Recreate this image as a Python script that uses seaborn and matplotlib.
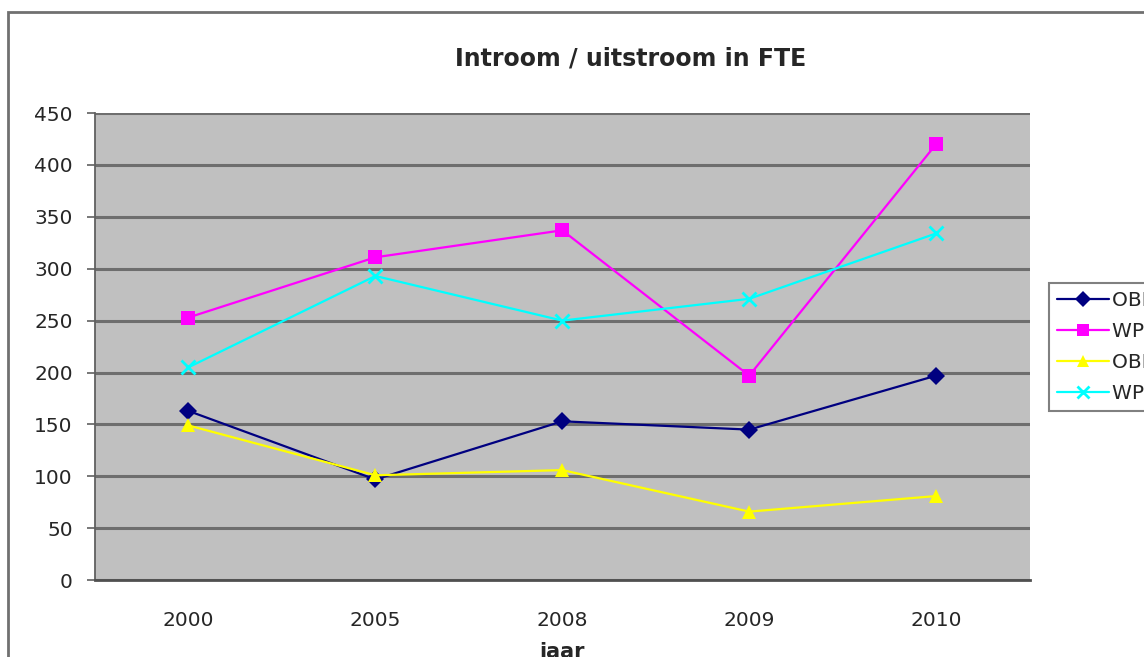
import pandas as pd
import matplotlib
matplotlib.use('Agg')
import matplotlib.pyplot as plt
import matplotlib.colors as mcolors
import seaborn as sns
from matplotlib.patches import Rectangle

jaren = ['2000', '2005', '2008', '2009', '2010']
obp_in = [163, 97, 153, 145, 197]
wp_in = [253, 311, 337, 197, 420]
obp_uit = [149, 101, 106, 66, 81]
wp_uit = [205, 293, 250, 271, 334]
reeksen = ['OBP instroom', 'WP instroom', 'OBP uitstroom', 'WP uitstroom']

df = pd.DataFrame({
    'jaar': jaren * 4,
    'fte': obp_in + wp_in + obp_uit + wp_uit,
    'reeks': [r for r in reeksen for _ in jaren],
})

sns.set_style('white')
plt.rcParams['font.family'] = ['DejaVu Sans']

fig = plt.figure(figsize=(11.44, 6.57), dpi=100)
ax = fig.add_axes([0.083, 0.117, 0.817, 0.711])

kleuren = {'OBP instroom': '#000080', 'WP instroom': '#FF00FF',
           'OBP uitstroom': '#FFFF00', 'WP uitstroom': '#00FFFF'}
markers = {'OBP instroom': 'D', 'WP instroom': 's',
           'OBP uitstroom': '^', 'WP uitstroom': 'X'}

sns.lineplot(data=df, x='jaar', y='fte', hue='reeks', style='reeks',
             palette=kleuren, markers=markers, dashes=False, sort=False,
             markersize=9.5, linewidth=1.6, ax=ax)


def fix_marker(ln):
    # kruisje als lijnmarker, de rest gevuld zonder rand
    if mcolors.to_hex(ln.get_color()) == '#00ffff':
        ln.set_marker('x')
        ln.set_markeredgewidth(2)
        ln.set_markeredgecolor('#00FFFF')
    else:
        ln.set_markeredgewidth(0)


for ln in ax.get_lines():
    fix_marker(ln)

ax.set_facecolor('#C0C0C0')
ax.set_xlim(-0.5, 4.5)
ax.set_ylim(0, 450)
ax.set_yticks(range(0, 451, 50))
ax.yaxis.grid(True, color='#6E6E6E', linewidth=2.2)
ax.set_axisbelow(True)
ax.set_xticks(range(len(jaren)))
ax.set_xticks([i + 0.5 for i in range(-1, 5)], minor=True)
ax.tick_params(axis='x', which='major', length=0, pad=22, labelsize=14.5)
ax.tick_params(axis='x', which='minor', length=5, color='#808080', width=1)
ax.tick_params(axis='y', length=6, color='#606060', width=1.2, labelsize=14.5, left=True, pad=10)
for s in ['top', 'right']:
    ax.spines[s].set_visible(False)
ax.spines['left'].set_color('#606060')
ax.spines['left'].set_linewidth(1.3)
ax.spines['bottom'].set_color('#505050')
ax.spines['bottom'].set_linewidth(2)
ax.set_xlabel('jaar', fontsize=15, fontweight='bold', labelpad=9)
ax.set_ylabel('')
fig.text(631 / 1144, 1 - 58 / 657, 'Introom / uitstroom in FTE', fontsize=17,
         fontweight='bold', ha='center', va='center')

handles, labels = ax.get_legend_handles_labels()
ax.get_legend().remove()
for h in handles:
    fix_marker(h)
    h.set_markersize(8)
leg = fig.legend(handles, labels, loc='upper left', bbox_to_anchor=(1049 / 1144, 1 - 283 / 657),
                 fontsize=14.5, frameon=True, fancybox=False, handlelength=2.6,
                 handletextpad=0.15, labelspacing=0.6, borderpad=0.4, borderaxespad=0)
leg.get_frame().set_edgecolor('#606060')
leg.get_frame().set_linewidth(1.5)

fig.patches.append(Rectangle((8 / 1144, -0.1), 1.2, 1 - 12 / 657 + 0.1,
                             transform=fig.transFigure, fill=False,
                             edgecolor='#707070', linewidth=2))

plt.savefig('out.png', dpi=100)
